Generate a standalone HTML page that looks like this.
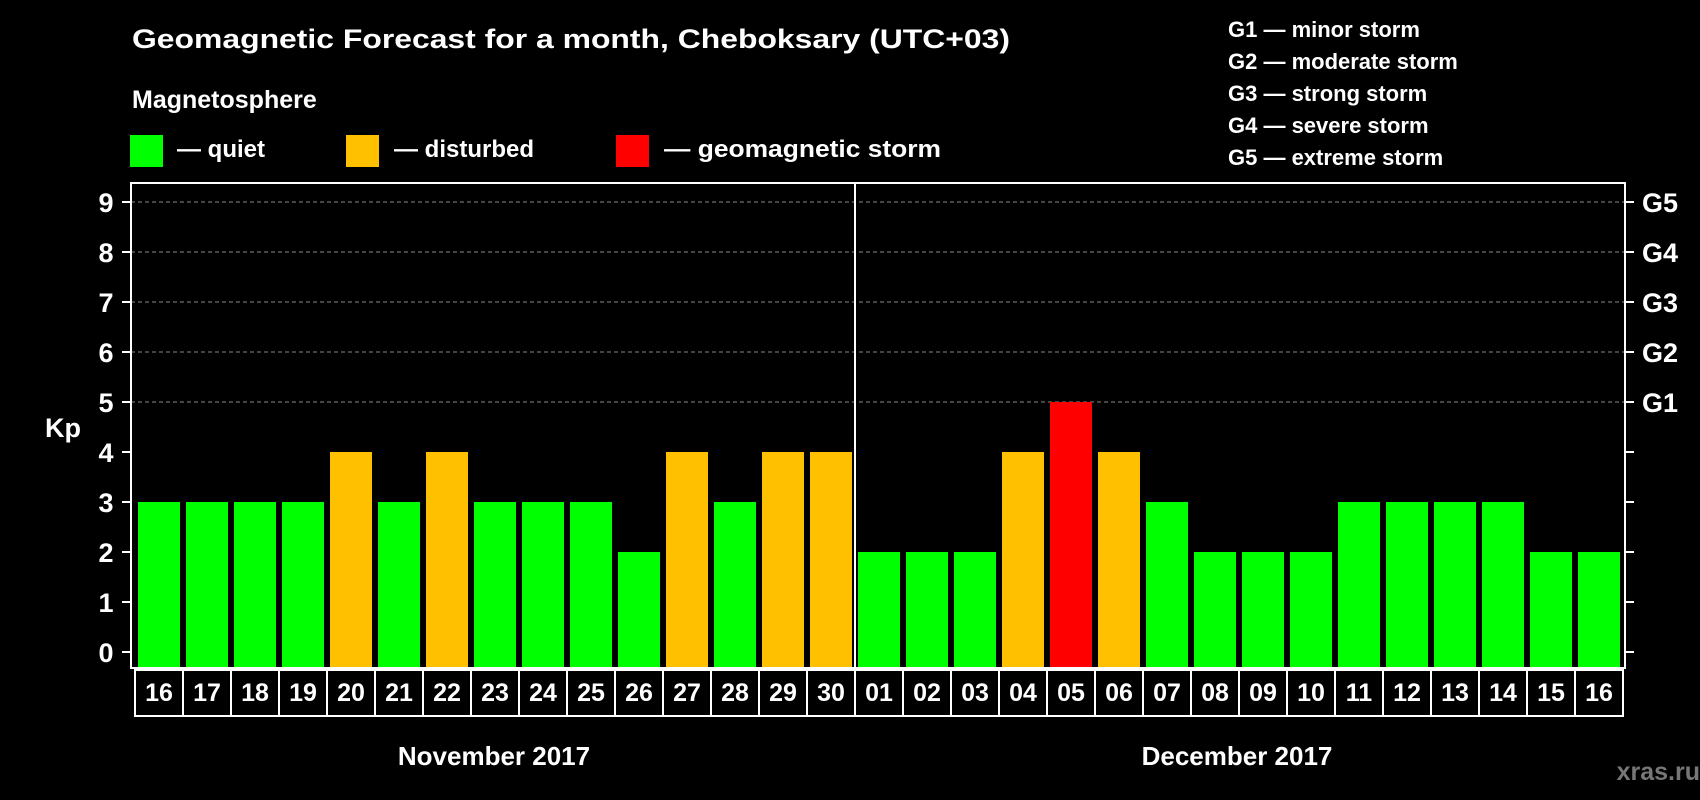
<!DOCTYPE html>
<html><head><meta charset="utf-8"><style>
html,body{margin:0;padding:0;background:#000;}
svg{display:block;font-family:"Liberation Sans",sans-serif;font-weight:bold;}
</style></head><body>
<svg id="chart" width="1700" height="800" viewBox="0 0 1700 800">
<rect width="1700" height="800" fill="#000"/>
<text x="132" y="48" font-size="27" fill="#fff" textLength="878" lengthAdjust="spacingAndGlyphs">Geomagnetic Forecast for a month, Cheboksary (UTC+03)</text>
<text x="132" y="108" font-size="25" fill="#fff">Magnetosphere</text>
<g>
<rect x="130" y="135" width="33" height="32" fill="#00ff00"/>
<text x="177" y="157" font-size="24" fill="#fff">— quiet</text></g>
<g>
<rect x="346" y="135" width="33" height="32" fill="#ffc000"/>
<text x="394" y="157" font-size="24" fill="#fff">— disturbed</text></g>
<g>
<rect x="616" y="135" width="33" height="32" fill="#ff0000"/>
<text x="664" y="157" font-size="24" fill="#fff" textLength="277" lengthAdjust="spacingAndGlyphs">— geomagnetic storm</text></g>
<g font-size="22" fill="#fff">
<text x="1228" y="37">G1 — minor storm</text>
<text x="1228" y="69">G2 — moderate storm</text>
<text x="1228" y="101">G3 — strong storm</text>
<text x="1228" y="133">G4 — severe storm</text>
<text x="1228" y="165">G5 — extreme storm</text>
</g>
<g id="grid"></g>
<g id="bars"></g>
<g id="axes"></g>
<text x="63" y="437" font-size="27" fill="#fff" text-anchor="middle">Kp</text>
<text x="494" y="765" font-size="26" fill="#fff" text-anchor="middle">November 2017</text>
<text x="1237" y="765" font-size="26" fill="#fff" text-anchor="middle">December 2017</text>
<text x="1700" y="780" font-size="25" fill="#777" text-anchor="end">xras.ru</text>
</svg>
<script>
const days = ["16","17","18","19","20","21","22","23","24","25","26","27","28","29","30","01","02","03","04","05","06","07","08","09","10","11","12","13","14","15","16"];
const kpValues = [3,3,3,3,4,3,4,3,3,3,2,4,3,4,4,2,2,2,4,5,4,3,2,2,2,3,3,3,3,2,2];
const yTicks = [0,1,2,3,4,5,6,7,8,9];
const gLabels = ["G1","G2","G3","G4","G5"];
const NS="http://www.w3.org/2000/svg";
const plotL=131, plotR=1625, plotT=183, plotB=668;
const y0=652, unit=50;
function yPos(v){return y0-v*unit;}
function xLeft(i){return 138+i*48;}
function mk(tag,attrs,parent){const e=document.createElementNS(NS,tag);for(const k in attrs)e.setAttribute(k,attrs[k]);parent.appendChild(e);return e;}
const grid=document.getElementById('grid'),bars=document.getElementById('bars'),axes=document.getElementById('axes');
yTicks.forEach(v=>{
  if(v>=5){const l=mk('line',{x1:plotL,x2:plotR,y1:yPos(v),y2:yPos(v),stroke:'#888','stroke-width':1,'stroke-dasharray':'4,3'},grid);
  
  }
  const t1=mk('line',{x1:122,x2:plotL,y1:yPos(v),y2:yPos(v),stroke:'#fff','stroke-width':2},axes);
  
  
  const t2=mk('line',{x1:plotR,x2:1634,y1:yPos(v),y2:yPos(v),stroke:'#fff','stroke-width':2},axes);
  
  
  const tx=mk('text',{x:106,y:yPos(v)+10,'font-size':27,fill:'#fff','text-anchor':'middle'},axes);
  tx.textContent=v;
  
  
});
gLabels.forEach((g,i)=>{
  const t=mk('text',{x:1642,y:yPos(5+i)+10,'font-size':27,fill:'#fff'},axes);
  t.textContent=g;
  
  
});
kpValues.forEach((v,i)=>{
  const col=v>=5?'#ff0000':(v>=4?'#ffc000':'#00ff00');
  const r=mk('rect',{x:xLeft(i),y:yPos(v),width:42,height:plotB-yPos(v),fill:col},bars);
  
  
});
const frame=mk('rect',{x:plotL,y:plotT,width:plotR-plotL,height:plotB-plotT,fill:'none',stroke:'#fff','stroke-width':2},axes);


const sep=mk('line',{x1:855,x2:855,y1:plotT,y2:plotB,stroke:'#fff','stroke-width':2},axes);


const dbox=mk('rect',{x:135,y:670,width:1488,height:46,fill:'none',stroke:'#fff','stroke-width':2},axes);


days.forEach((d,i)=>{
  if(i>0){const l=mk('line',{x1:135+i*48,x2:135+i*48,y1:670,y2:716,stroke:'#fff','stroke-width':2},axes);
  
  }
  const t=mk('text',{x:xLeft(i)+21,y:701,'font-size':25,fill:'#fff','text-anchor':'middle'},axes);
  t.textContent=d;
  
  
});
</script>
</body></html>
